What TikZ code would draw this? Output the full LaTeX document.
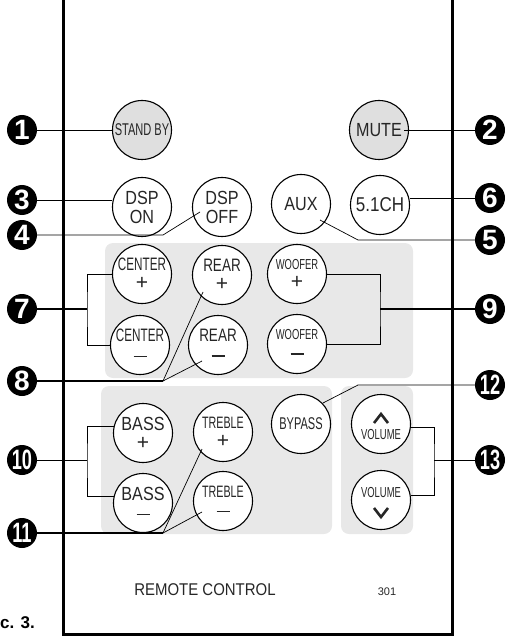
\documentclass[tikz,border=0pt]{standalone}
\usepackage{fontspec}
\setmainfont{Liberation Sans}
\newfontfamily\condfont[FakeStretch=0.65]{Liberation Sans}
\newfontfamily\semicond[FakeStretch=0.75]{Liberation Sans}
\newfontfamily\btnfont[FakeStretch=0.85]{Liberation Sans}
\newfontfamily\titlefont[FakeStretch=0.88]{Liberation Sans}
\newcommand{\btnplus}{{\normalfont\fontsize{21}{19}\selectfont +}}
\newcommand{\btnminus}{\rule[4pt]{13pt}{1.2pt}}

\begin{document}
\begin{tikzpicture}[x=1pt, y=-1pt,
    panel/.style={fill=gray!18, rounded corners=8pt},
    btn/.style={circle, draw, line width=1.1pt, fill=white, minimum size=59pt, inner sep=0pt},
    lbl/.style={font=\fontsize{19}{19}\selectfont\btnfont, align=center, inner sep=0pt, text=black!85},
    lbc/.style={lbl, font=\fontsize{17}{19}\selectfont\condfont},
    badge/.style={circle, fill=black, text=white, minimum size=30pt, inner sep=0pt,
        font=\fontsize{28}{28}\selectfont\bfseries},
    wire/.style={line width=0.7pt},
    stem/.style={line width=1.5pt}
]
    \useasboundingbox (0,0) rectangle (512,636);

    % Button panels
    \fill[panel] (105,243) rectangle (413,378);
    \fill[panel] (101,386) rectangle (332,534);
    \fill[panel] (341,386) rectangle (413,534);

    % Remote body
    \draw[line width=3pt] (63,-5) -- (63,634) -- (452,634) -- (452,-5);

    % Top buttons
    \node[btn, fill=gray!25, label={[lbc]center:STAND BY}] (standby) at (142,130) {};
    \node[btn, fill=gray!25, label={[lbl]center:MUTE}] (mute) at (379,130) {};
    \node[btn, label={[lbl]center:{DSP\\ON}}] (dspon) at (142,207) {};
    \node[btn, label={[lbl]center:{DSP\\OFF}}] (dspoff) at (222,207) {};
    \node[btn, label={[lbl]center:AUX}] (aux) at (301,204) {};
    \node[btn, label={[lbl, font=\fontsize{20}{19}\selectfont\btnfont]center:5.1CH}] (ch51) at (380,205) {};

    % Level buttons
    \node[btn, label={[lbc, font=\fontsize{18}{19}\selectfont\condfont]center:{CENTER\\\btnplus}}] (cplus) at (142,274) {};
    \node[btn, label={[lbc, font=\fontsize{18}{19}\selectfont\condfont]center:{CENTER\\\btnminus}}] (cminus) at (140,345) {};
    \node[btn, label={[lbl, font=\fontsize{18}{19}\selectfont\semicond]center:{REAR\\\btnplus}}] (rplus) at (222,275) {};
    \node[btn, label={[lbl, font=\fontsize{18}{19}\selectfont\semicond]center:{REAR\\\btnminus}}] (rminus) at (218,345) {};
    \node[btn, label={[lbc, font=\fontsize{14.5}{19}\selectfont\condfont]center:{WOOFER\\\btnplus}}] (wplus) at (297,274) {};
    \node[btn, label={[lbc, font=\fontsize{14.5}{19}\selectfont\condfont]center:{WOOFER\\\btnminus}}] (wminus) at (297,344) {};

    % Tone buttons
    \node[btn, label={[lbl]center:{BASS\\\btnplus}}] (bplus) at (143,433) {};
    \node[btn, label={[lbl]center:{BASS\\\btnminus}}] (bminus) at (143,503) {};
    \node[btn, label={[lbc, font=\fontsize{16.5}{19}\selectfont\condfont]center:{TREBLE\\\btnplus}}] (tplus) at (223,432) {};
    \node[btn, label={[lbc, font=\fontsize{16.5}{19}\selectfont\condfont]center:{TREBLE\\\btnminus}}] (tminus) at (223,501) {};
    \node[btn, label={[lbc]center:BYPASS}] (bypass) at (301,424) {};
    \node[btn, label={[lbc, font=\fontsize{14.5}{18}\selectfont\condfont, yshift=-11pt]center:VOLUME}] (vup) at (381,424) {};
    \node[btn, label={[lbc, font=\fontsize{14.5}{18}\selectfont\condfont, yshift=7pt]center:VOLUME}] (vdown) at (381,500) {};
    \draw[line width=2.6pt, black!85] ([shift={(-7,-1)}]vup.center) -- ([shift={(0,-10)}]vup.center) -- ([shift={(7,-1)}]vup.center);
    \draw[line width=2.6pt, black!85] ([shift={(-7,8)}]vdown.center) -- ([shift={(0,17)}]vdown.center) -- ([shift={(7,8)}]vdown.center);

    % Number badges
    \foreach \n/\x/\y in {1/22/130, 2/490/130, 3/22/200, 4/22/235, 5/490/240, 6/490/198, 7/22/309, 8/22/381, 9/490/309}
        \node[badge] (b\n) at (\x,\y) {\n};
    \foreach \n/\x/\y in {10/22/460, 11/22/533, 12/490/385, 13/490/460}
        \node[badge, font=\fontsize{28}{28}\selectfont\condfont\bfseries] (b\n) at (\x,\y) {\n};

    % Leader lines
    \draw[wire] (b1) -- (standby.west);
    \draw[wire] ([xshift=-5pt]mute.east) -- (b2);
    \draw[wire] (b3) -- (b3 -| dspon.west);
    \draw[wire] (b4) -- (163,235) -- ([shift={(-22,5)}]dspoff.center);
    \draw[wire] (b5) -- (358,240) -- ([shift={(19,16)}]aux.center);
    \draw[wire] (b6 -| ch51.east) -- (b6);

    \coordinate (j7) at (87,309);
    \draw[wire] (cplus.west) -| (j7) |- (cminus.west);
    \draw[stem] (b7) -- (j7);

    \coordinate (k8) at (163,381);
    \draw[wire, line width=1.2pt] (b8) -- (k8);
    \draw[wire] (k8) -- ([shift={(-19,17)}]rplus.center);
    \draw[wire] (k8) -- ([shift={(-16,16)}]rminus.center);

    \coordinate (j9) at (380,309);
    \draw[wire] (wplus.east) -| (j9) |- (wminus.east);
    \draw[stem] (j9) -- (b9);

    \coordinate (j10) at (87,460);
    \draw[wire] (bplus.168) -| (j10) |- (bminus.168);
    \draw[wire] (b10) -- (j10);

    \coordinate (k11) at (163,533);
    \draw[wire, line width=1.2pt] (b11) -- (k11);
    \draw[wire] (k11) -- ([shift={(-21,17)}]tplus.center);
    \draw[wire] (k11) -- ([shift={(-21,11)}]tminus.center);

    \draw[wire] (b12) -- (358,385) -- ([shift={(22,-21)}]bypass.center);

    \coordinate (j13) at (434,460);
    \draw[wire] (vup.-6) -| (j13) |- (vdown.8);
    \draw[wire] (j13) -- (b13);

    % Bottom texts
    \node[font=\fontsize{17}{17}\selectfont\titlefont, anchor=base, text=black!85] (title) at (205,595) {REMOTE CONTROL};
    \node[font=\fontsize{11}{11}\selectfont, anchor=base, text=black!85] (model) at (387,595) {301};
    \node[font=\fontsize{17}{17}\selectfont\bfseries, anchor=base west, inner sep=0pt] (fig) at (0,628) {c. 3.};
\end{tikzpicture}
\end{document}
